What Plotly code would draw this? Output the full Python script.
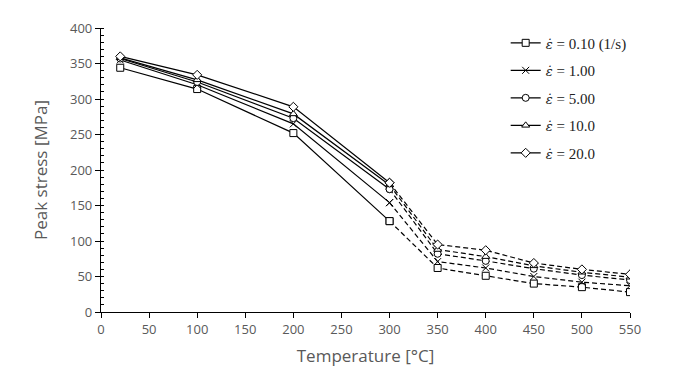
import plotly.graph_objects as go

temps = [20, 100, 200, 300, 350, 400, 450, 500, 550]
eps = "<span style='font-family:DejaVu Serif;font-style:italic;font-size:13px'>ε̇</span>"
rate_labels = [eps + " = 0.10 (1/s)", eps + " = 1.00", eps + " = 5.00",
               eps + " = 10.0", eps + " = 20.0"]
stress_010 = [344, 314, 252, 128, 62, 51, 40, 35, 28]
stress_100 = [355, 320, 265, 154, 71, 62, 50, 42, 37]
stress_500 = [357, 324, 273, 173, 82, 72, 61, 52, 45]
stress_100b = [358, 327, 279, 179, 88, 78, 65, 56, 49]
stress_200 = [360, 334, 289, 182, 95, 87, 69, 60, 53]
series = [stress_010, stress_100, stress_500, stress_100b, stress_200]
symbols = ["square", "x-thin-open", "circle", "triangle-up", "diamond"]
split_idx = 3  # solid up to 300 °C, dashed after


def marker(sym):
    if sym == "x-thin-open":
        return dict(symbol=sym, size=7, color="black", line=dict(color="black", width=1))
    return dict(symbol=sym, size=7, color="white", line=dict(color="black", width=1))


fig = go.Figure()
for i, (lab, vals, sym) in enumerate(zip(rate_labels, series, symbols)):
    fig.add_trace(go.Scatter(
        x=temps[split_idx:], y=vals[split_idx:], mode="lines+markers",
        line=dict(color="black", width=1.2, dash="5px,3px"), marker=marker(sym),
        showlegend=False, legendgroup=f"g{i}", hoverinfo="skip"))
for i, (lab, vals, sym) in enumerate(zip(rate_labels, series, symbols)):
    fig.add_trace(go.Scatter(
        x=temps[:split_idx + 1], y=vals[:split_idx + 1], mode="lines+markers",
        line=dict(color="black", width=1.2), marker=marker(sym), name=lab,
        legendgroup=f"g{i}", legendrank=i + 1))

axis_font = dict(family="Open Sans", size=13, color="#595959")
fig.update_layout(
    width=669, height=377,
    margin=dict(l=93, r=47, t=20, b=73),
    plot_bgcolor="white", paper_bgcolor="white",
    font=dict(family="Open Sans", color="#595959"),
    legend=dict(x=0.765, y=1.005, xanchor="left", yanchor="top",
                font=dict(family="Liberation Serif", size=15, color="#222222"),
                tracegroupgap=5, bgcolor="rgba(0,0,0,0)", traceorder="grouped"),
    xaxis=dict(range=[0, 550], dtick=50, tick0=0, showgrid=False, zeroline=False,
               showline=True, linecolor="black", linewidth=1.2,
               ticks="outside", ticklen=5, tickcolor="black", tickfont=axis_font,
               title=dict(text="Temperature [°C]", font=dict(family="Open Sans", size=17, color="#595959"), standoff=13)),
    yaxis=dict(range=[0, 400], dtick=50, tick0=0, showgrid=False, zeroline=False,
               showline=True, linecolor="black", linewidth=1.2,
               ticks="outside", ticklen=5, tickcolor="black", tickfont=axis_font,
               minor=dict(dtick=10, ticks="inside", ticklen=3, tickcolor="black"),
               title=dict(text="Peak stress [MPa]", font=dict(family="Open Sans", size=17, color="#595959"), standoff=18)),
)
fig.write_html("out.html")
